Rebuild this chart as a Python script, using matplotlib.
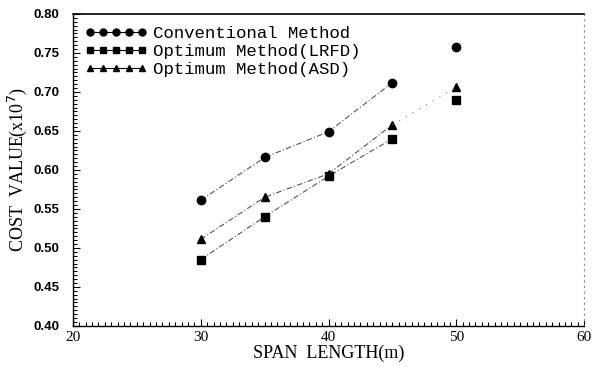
import matplotlib
matplotlib.use("Agg")
import matplotlib.pyplot as plt
from matplotlib.ticker import MultipleLocator

# ─── data ─────────────────────────────────────────────
span = [30, 35, 40, 45, 50]
conventional = [0.561, 0.616, 0.649, 0.712, 0.758]
optimum_lrfd = [0.485, 0.540, 0.592, 0.640, 0.690]
optimum_asd = [0.511, 0.565, 0.595, 0.658, 0.706]

labels = ["Conventional Method", "Optimum Method(LRFD)", "Optimum Method(ASD)"]
markers = ["o", "s", "^"]
msizes = [6, 6, 6]

fig = plt.figure(figsize=(5.93, 3.67), dpi=100)
ax = fig.add_axes([0.123, 0.112, 0.862, 0.850])

dash = (0, (5, 2, 1, 2))
series = [conventional, optimum_lrfd, optimum_asd]
for vals, lab, mk, ms in zip(series, labels, markers, msizes):
    # lines only join the first four spans, the 50 m point stands alone
    ax.plot(span[:4], vals[:4], linestyle=dash, color="#555555", lw=0.8)
    ax.plot(span, vals, linestyle="none", marker=mk, ms=ms, color="black")
    # legend proxy
    ax.plot([], [], linestyle="-", lw=0.8, marker=mk, ms=5, color="black", label=lab)

# faint dotted tail from 45 to 50
ax.plot(span[3:], optimum_asd[3:], linestyle=(0, (1, 6)), color="#777777", lw=0.8)

ax.set_xlim(20, 60)
ax.set_ylim(0.40, 0.80)
ax.xaxis.set_major_locator(MultipleLocator(10))
ax.xaxis.set_minor_locator(MultipleLocator(0.5))
ax.yaxis.set_major_locator(MultipleLocator(0.05))
ax.yaxis.set_minor_locator(MultipleLocator(0.005))
ax.tick_params(which="both", direction="in", top=False, right=False, width=0.8)
ax.tick_params(which="major", length=5)
ax.tick_params(which="minor", length=3)
ax.tick_params(axis="y", pad=10)
ax.tick_params(axis="x", pad=4)

ax.set_yticklabels([f"{v:.2f}" for v in ax.get_yticks()],
                   fontdict={"family": "Liberation Sans", "weight": "bold", "size": 9.5})
ax.set_xticklabels([f"{v:.0f}" for v in ax.get_xticks()],
                   fontdict={"family": "Liberation Serif", "size": 11})

ax.spines["right"].set_linestyle((0, (1, 4)))
ax.spines["right"].set_color("#888888")
ax.spines["right"].set_linewidth(0.8)
ax.spines["top"].set_linewidth(1.2)
ax.spines["left"].set_linewidth(1.0)
ax.spines["bottom"].set_linewidth(1.0)

ax.set_xlabel("SPAN  LENGTH(m)", family="Liberation Serif", fontsize=13, labelpad=0)
ax.set_ylabel("COST  VALUE(x10$^{7}$)", family="Liberation Serif", fontsize=13, labelpad=3)

leg = ax.legend(loc="upper left", frameon=False, numpoints=5, handlelength=3.6,
                handletextpad=0.3, labelspacing=0.15, borderaxespad=0.3,
                borderpad=0.4, prop={"family": "Liberation Mono", "size": 12.5})

fig.savefig("out.png", dpi=100)
